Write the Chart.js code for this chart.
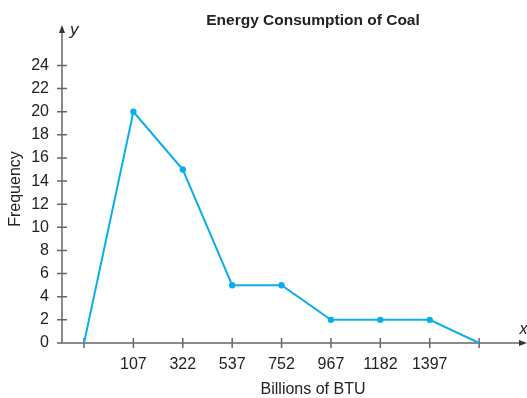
<!DOCTYPE html>
<html>
<head>
<meta charset="utf-8">
<script src="https://cdn.jsdelivr.net/npm/chart.js@4"></script>
<style>
  html, body { margin: 0; padding: 0; background: #fff; }
</style>
</head>
<body>
<canvas id="coalChart" width="527" height="398"></canvas>
<script>
// class midpoints (blank ends close the polygon) and frequencies
const classLabels = ['', '107', '322', '537', '752', '967', '1182', '1397', ''];
const frequencies = [0, 20, 15, 5, 5, 2, 2, 2, 0];
const yTicks = [0, 2, 4, 6, 8, 10, 12, 14, 16, 18, 20, 22, 24];

const chartTitle = 'Energy Consumption of Coal';
const xTitle = 'Billions of BTU';
const yTitle = 'Frequency';

const baseFont = '"Liberation Sans", Arial, Helvetica, sans-serif';
const lineColor = '#0AAEEA';
const axisColor = '#666';

// axes with arrows and crossing tick marks, plus the titles
const axisDecor = {
    id: 'axisDecor',
    beforeDatasetsDraw(chart) {
        const { ctx, chartArea: a, scales: { x, y } } = chart;
        const x0 = a.left;
        const y0 = y.getPixelForValue(0);
        ctx.save();
        ctx.strokeStyle = axisColor;
        ctx.lineWidth = 1.5;
        ctx.beginPath();
        ctx.moveTo(x0, y0);
        ctx.lineTo(x0, a.top + 6);
        ctx.moveTo(x0 - 5, y0);
        ctx.lineTo(a.right - 6, y0);
        y.ticks.forEach(t => {
            const py = y.getPixelForValue(t.value);
            ctx.moveTo(x0 - 5, py);
            ctx.lineTo(x0 + 5, py);
        });
        x.ticks.forEach(t => {
            const px = x.getPixelForValue(t.value);
            ctx.moveTo(px, y0 - 5);
            ctx.lineTo(px, y0 + 5);
        });
        ctx.stroke();

        ctx.fillStyle = '#333';
        ctx.beginPath();
        ctx.moveTo(x0, a.top);
        ctx.lineTo(x0 - 3, a.top + 8);
        ctx.lineTo(x0 + 3, a.top + 8);
        ctx.closePath();
        ctx.fill();
        ctx.beginPath();
        ctx.moveTo(a.right, y0);
        ctx.lineTo(a.right - 8, y0 - 3);
        ctx.lineTo(a.right - 8, y0 + 3);
        ctx.closePath();
        ctx.fill();
        ctx.restore();
    },
    afterDraw(chart) {
        const { ctx, chartArea: a, scales: { y } } = chart;
        const y0 = y.getPixelForValue(0);
        ctx.save();
        ctx.fillStyle = '#222';

        ctx.font = 'italic 17px ' + baseFont;
        ctx.textAlign = 'left';
        ctx.fillText('y', a.left + 8, a.top + 10);
        ctx.font = 'italic 16px ' + baseFont;
        ctx.textAlign = 'center';
        ctx.fillText('x', a.right - 3.5, y0 - 9);

        ctx.font = 'bold 15.5px ' + baseFont;
        ctx.textAlign = 'center';
        ctx.fillText(chartTitle, 313, 25);

        ctx.font = '16px ' + baseFont;
        ctx.fillText(xTitle, 313, 394);

        ctx.translate(20, 189);
        ctx.rotate(-Math.PI / 2);
        ctx.fillText(yTitle, 0, 0);
        ctx.restore();
    }
};

const ctx = document.getElementById('coalChart').getContext('2d');
const coalChart = new Chart(ctx, {
    type: 'line',
    data: {
        datasets: [{
            data: frequencies.map((f, i) => ({ x: i, y: f })),
            borderColor: lineColor,
            backgroundColor: lineColor,
            borderWidth: 2,
            tension: 0,
            pointRadius: c => (c.dataIndex === 0 || c.dataIndex === frequencies.length - 1) ? 0 : 3.2,
            pointBorderWidth: 0
        }]
    },
    options: {
        responsive: false,
        animation: false,
        layout: { padding: { top: 25, right: 0, bottom: 0, left: 0 } },
        plugins: {
            legend: { display: false },
            tooltip: { enabled: false },
            title: { display: false }
        },
        scales: {
            x: {
                type: 'linear',
                min: -0.446,
                max: 8.97,
                grid: { display: false, drawTicks: false },
                border: { display: false },
                afterBuildTicks: s => { s.ticks = classLabels.map((_, i) => ({ value: i })); },
                afterFit: s => { s.height = 55; },
                ticks: {
                    autoSkip: false,
                    maxRotation: 0,
                    padding: 12,
                    color: '#222',
                    font: { family: baseFont, size: 16 },
                    callback: v => classLabels[v]
                }
            },
            y: {
                min: 0,
                max: 27.5,
                grid: { display: false, drawTicks: false },
                border: { display: false },
                afterBuildTicks: s => { s.ticks = yTicks.map(v => ({ value: v })); },
                afterFit: s => { s.width = 62; },
                ticks: {
                    padding: 13,
                    color: '#222',
                    font: { family: baseFont, size: 16 }
                }
            }
        }
    },
    plugins: [axisDecor]
});
</script>
</body>
</html>
